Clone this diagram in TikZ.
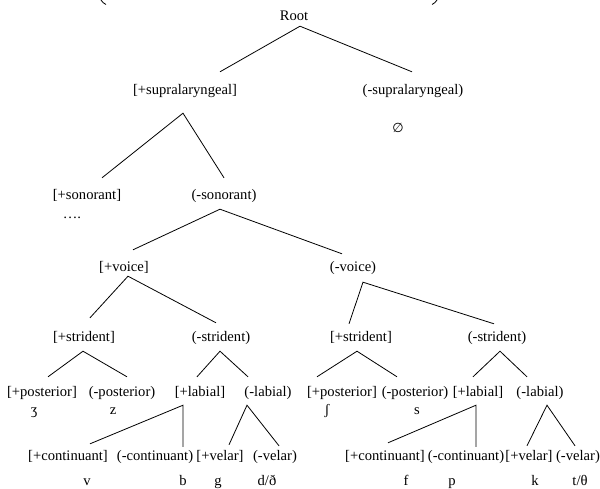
\documentclass[tikz,border=0pt]{standalone}
\usepackage{fontspec}
\setmainfont{Liberation Serif}
\newfontfamily\symfont{DejaVu Sans}
\begin{document}
\begin{tikzpicture}[x=1pt,y=-1pt,
  lbl/.style={anchor=base,inner sep=0pt,text height=10.5pt,text depth=3.5pt,font=\fontsize{14.6}{18}\selectfont},
  seg/.style={anchor=base,inner sep=0pt,font=\fontsize{14.6}{18}\selectfont},
  branch/.style={line width=0.8pt}]
\useasboundingbox (0,0) rectangle (600,488);
% cropped parentheses at the top edge
\draw[branch] (101,0) .. controls (102,2) and (104,3.5) .. (106,4.5);
\draw[branch] (437,0) .. controls (436,2) and (434,3.5) .. (432,4.5);
% level 0-2
\node[lbl] (root) at (294,20) {Root};
\node[lbl] (sup) at (185,94) {[+supralaryngeal]};
\node[lbl] (nsup) at (413,94) {(-supralaryngeal)};
\node[inner sep=0pt,font=\symfont\fontsize{13}{15}\selectfont] (null) at (398,128) {∅};
\node[lbl] (son) at (87,199) {[+sonorant]};
\node[lbl] (nson) at (224,199) {(-sonorant)};
\node[seg] (dots) at (72,218) {….};
\node[lbl] (voi) at (124,271) {[+voice]};
\node[lbl] (nvoi) at (353,271) {(-voice)};
% strident row
\node[lbl] (strL) at (84,341) {[+strident]};
\node[lbl] (nstrL) at (221,341) {(-strident)};
\node[lbl] (strR) at (361,341) {[+strident]};
\node[lbl] (nstrR) at (497,341) {(-strident)};
% posterior / labial row
\node[lbl] (postL) at (42,396) {[+posterior]};
\node[lbl] (npostL) at (122,396) {(-posterior)};
\node[lbl] (labL) at (200,396) {[+labial]};
\node[lbl] (nlabL) at (268,396) {(-labial)};
\node[lbl] (postR) at (342,396) {[+posterior]};
\node[lbl] (npostR) at (415,396) {(-posterior)};
\node[lbl] (labR) at (478,396) {[+labial]};
\node[lbl] (nlabR) at (540,396) {(-labial)};
\node[seg] (zh) at (34,414) {ʒ};
\node[seg] (z) at (113,414) {z};
\node[seg] (sh) at (327,414) {ʃ};
\node[seg] (s) at (417,414) {s};
% bottom row
\node[lbl] (contL) at (68,460) {[+continuant]};
\node[lbl] (ncontL) at (155,460) {(-continuant)};
\node[lbl] (velL) at (220,460) {[+velar]};
\node[lbl] (nvelL) at (275,460) {(-velar)};
\node[lbl] (contR) at (385,460) {[+continuant]};
\node[lbl] (ncontR) at (466,460) {(-continuant)};
\node[lbl] (velR) at (529,460) {[+velar]};
\node[lbl] (nvelR) at (578,460) {(-velar)};
\node[seg] (v) at (87,485) {v};
\node[seg] (b) at (183,485) {b};
\node[seg] (g) at (218,485) {g};
\node[seg] (d) at (267,485) {d/ð};
\node[seg] (f) at (406,485) {f};
\node[seg] (p) at (452,485) {p};
\node[seg] (k) at (535,485) {k};
\node[seg] (t) at (580,485) {t/θ};
% branches
\draw[branch] ([shift={(35,-11.5)}]sup.north) -- ([shift={(6,2.5)}]root.south) -- ([shift={(-1,-11.5)}]nsup.north);
\draw[branch] ([shift={(15,-10.5)}]son.north) -- ([shift={(-2,15.5)}]sup.south) -- ([shift={(0,-10.5)}]nson.north);
\draw[branch] ([shift={(9,-10.5)}]voi.north) -- ([shift={(-4,6.5)}]nson.south) -- ([shift={(-11,-6.5)}]nvoi.north);
\draw[branch] ([shift={(6,-12.5)}]strL.north) -- ([shift={(4,1.5)}]voi.south) -- ([shift={(-5,-7.5)}]nstrL.north);
\draw[branch] ([shift={(-12,-6.5)}]strR.north) -- ([shift={(10,7.5)}]nvoi.south) -- ([shift={(-3,-6.5)}]nstrR.north);
\draw[branch] ([shift={(6,-8.5)}]postL.north) -- ([shift={(-1,6.5)}]strL.south) -- ([shift={(5,-8.5)}]npostL.north);
\draw[branch] ([shift={(-3,-8.5)}]labL.north) -- ([shift={(-1,6.5)}]nstrL.south) -- ([shift={(-20,-8.5)}]nlabL.north);
\draw[branch] ([shift={(-25,-8.5)}]postR.north) -- ([shift={(-4,6.5)}]strR.south) -- ([shift={(-18,-8.5)}]npostR.north);
\draw[branch] ([shift={(-5,-8.5)}]labR.north) -- ([shift={(3,6.5)}]nstrR.south) -- ([shift={(-13,-8.5)}]nlabR.north);
\draw[branch] ([shift={(22,-5.5)}]contL.north) -- ([shift={(-17,5.5)}]labL.south) -- ([shift={(28,-2.5)}]ncontL.north);
\draw[branch] ([shift={(9,-4.5)}]velL.north) -- ([shift={(-21,5.5)}]nlabL.south) -- ([shift={(4,-3.5)}]nvelL.north);
\draw[branch] ([shift={(3,-6.5)}]contR.north) -- ([shift={(-2,5.5)}]labR.south) -- ([shift={(10,-2.5)}]ncontR.north);
\draw[branch] ([shift={(-2,-3.5)}]velR.north) -- ([shift={(7,5.5)}]nlabR.south) -- ([shift={(-3,-3.5)}]nvelR.north);
\end{tikzpicture}
\end{document}
